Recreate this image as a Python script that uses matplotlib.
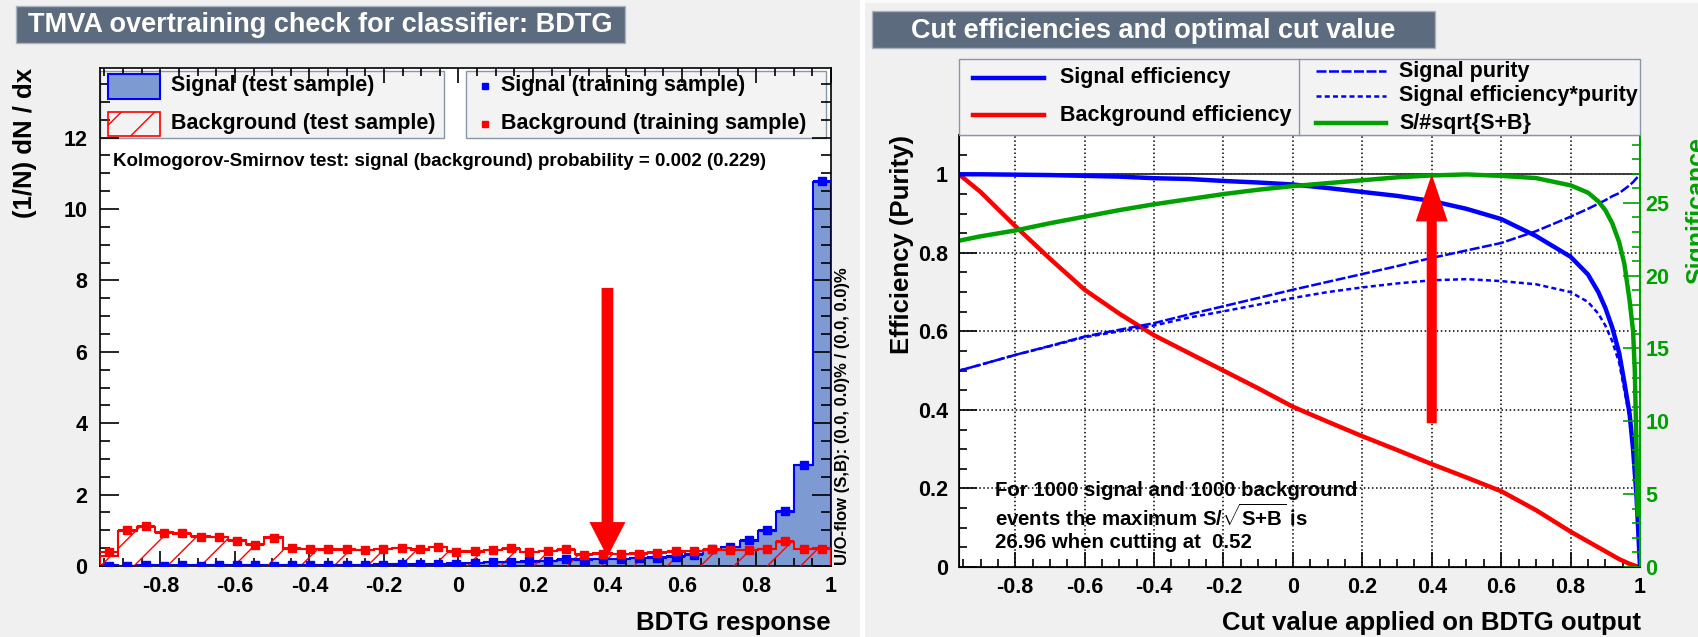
import numpy as np
import matplotlib
matplotlib.use("Agg")
import matplotlib.pyplot as plt
from matplotlib.patches import Rectangle, FancyArrow
from matplotlib.lines import Line2D
from matplotlib.ticker import MultipleLocator, FuncFormatter

# ---------------- data ----------------
# left panel: BDTG response histograms (40 bins)
bdt_lo, bdt_hi = -0.962, 1.0
n_bins = 40

sig_test = [0.02, 0.01, 0.02, 0.02, 0.01, 0.02, 0.02, 0.01, 0.02, 0.02,
            0.02, 0.03, 0.02, 0.03, 0.03, 0.05, 0.06, 0.05, 0.07, 0.08,
            0.09, 0.10, 0.10, 0.12, 0.14, 0.17, 0.19, 0.20, 0.21, 0.22,
            0.24, 0.28, 0.33, 0.45, 0.53, 0.70, 0.98, 1.52, 2.83, 10.75]
sig_train = [0.01, 0.01, 0.02, 0.01, 0.02, 0.01, 0.02, 0.02, 0.02, 0.01,
             0.02, 0.02, 0.02, 0.02, 0.03, 0.04, 0.05, 0.06, 0.07, 0.07,
             0.09, 0.10, 0.11, 0.13, 0.14, 0.19, 0.18, 0.19, 0.21, 0.22,
             0.23, 0.25, 0.31, 0.49, 0.54, 0.73, 1.00, 1.54, 2.82, 10.78]
bkg_test = [0.28, 0.97, 1.08, 0.95, 0.90, 0.84, 0.81, 0.74, 0.62, 0.80,
            0.49, 0.48, 0.46, 0.45, 0.46, 0.48, 0.51, 0.46, 0.52, 0.42,
            0.40, 0.44, 0.48, 0.40, 0.43, 0.45, 0.33, 0.36, 0.34, 0.36,
            0.38, 0.40, 0.42, 0.45, 0.46, 0.44, 0.48, 0.66, 0.47, 0.50]
bkg_train = [0.39, 1.00, 1.12, 0.93, 0.92, 0.82, 0.80, 0.71, 0.60, 0.79,
             0.50, 0.49, 0.47, 0.47, 0.44, 0.47, 0.50, 0.47, 0.54, 0.40,
             0.41, 0.45, 0.50, 0.39, 0.41, 0.47, 0.32, 0.35, 0.33, 0.34,
             0.37, 0.41, 0.41, 0.47, 0.45, 0.45, 0.49, 0.70, 0.47, 0.49]

ks_sig, ks_bkg = 0.002, 0.229

# right panel: cut efficiencies vs. cut value
cut_x = [-0.962, -0.9, -0.8, -0.7, -0.6, -0.5, -0.4, -0.3, -0.2, -0.1,
         0.0, 0.1, 0.2, 0.3, 0.4, 0.5, 0.6, 0.7, 0.8, 0.85,
         0.88, 0.9, 0.92, 0.94, 0.955, 0.97, 0.98, 0.99, 0.995, 1.0]
sig_eff = [1.0, 1.0, 0.999, 0.998, 0.996, 0.994, 0.99, 0.988, 0.983, 0.979,
           0.974, 0.965, 0.955, 0.945, 0.932, 0.912, 0.886, 0.843, 0.79, 0.745,
           0.70, 0.66, 0.61, 0.545, 0.47, 0.39, 0.30, 0.18, 0.09, 0.0]
bkg_eff = [1.0, 0.955, 0.868, 0.785, 0.706, 0.645, 0.59, 0.545, 0.50, 0.455,
           0.408, 0.37, 0.333, 0.298, 0.262, 0.228, 0.193, 0.145, 0.09, 0.065,
           0.05, 0.04, 0.03, 0.02, 0.014, 0.008, 0.005, 0.002, 0.001, 0.0]
purity = [0.50, 0.515, 0.54, 0.563, 0.587, 0.604, 0.621, 0.643, 0.664, 0.685,
          0.706, 0.726, 0.746, 0.766, 0.787, 0.806, 0.825, 0.855, 0.892, 0.912,
          0.925, 0.934, 0.944, 0.952, 0.962, 0.972, 0.98, 0.99, 0.995, 1.0]
eff_pur = [0.50, 0.515, 0.54, 0.562, 0.585, 0.60, 0.615, 0.635, 0.651, 0.668,
           0.685, 0.70, 0.712, 0.722, 0.73, 0.733, 0.728, 0.72, 0.70, 0.675,
           0.645, 0.615, 0.575, 0.52, 0.45, 0.38, 0.295, 0.178, 0.09, 0.0]
sig_x = [-0.962, -0.9, -0.8, -0.7, -0.6, -0.5, -0.4, -0.3, -0.2, -0.1,
         0.0, 0.1, 0.2, 0.3, 0.4, 0.5, 0.6, 0.7, 0.8, 0.85,
         0.88, 0.9, 0.92, 0.94, 0.955, 0.97, 0.98, 0.985, 0.99, 0.993]
significance = [22.4, 22.7, 23.1, 23.6, 24.05, 24.5, 24.9, 25.25, 25.6, 25.9,
                26.15, 26.35, 26.55, 26.75, 26.88, 26.95, 26.85, 26.7, 26.2, 25.7,
                25.1, 24.5, 23.6, 22.3, 20.8, 18.3, 16.2, 13.5, 8.0, 3.6]
max_signif = 26.96
best_cut = 0.52
n_sig_events, n_bkg_events = 1000, 1000
arrow_x = 0.4

# ---------------- style ----------------
W, H = 1698, 637
canvas_col = "#f0f0f0"
title_col = "#5d6b7e"
sig_fill = "#7d9bd2"
green = "#00a000"
legend_bg = "#f3f3f3"

plt.rcParams["font.family"] = ["Liberation Sans", "DejaVu Sans"]
plt.rcParams["font.weight"] = "bold"
plt.rcParams["hatch.linewidth"] = 1.0
plt.rcParams["mathtext.fontset"] = "custom"
plt.rcParams["mathtext.rm"] = "Liberation Sans:bold"
plt.rcParams["mathtext.it"] = "Liberation Sans:bold"
plt.rcParams["mathtext.bf"] = "Liberation Sans:bold"


def fb(x0, y0, x1, y1):
    # pixel box (top-left origin) -> figure fraction rect
    return [x0 / W, 1 - y1 / H, (x1 - x0) / W, (y1 - y0) / H]


def fp(x, y):
    return (x / W, 1 - y / H)


def tick_fmt(v, _):
    return f"{round(v, 6) + 0.0:g}"


fig = plt.figure(figsize=(W / 100, H / 100), dpi=100, facecolor=canvas_col)

# canvas separation / top strip of right canvas
fig.patches.append(Rectangle(fp(860, 637), 5 / W, 1, transform=fig.transFigure,
                             facecolor="white", edgecolor="none", zorder=0))
fig.patches.append(Rectangle(fp(865, 3), 1, 3 / H, transform=fig.transFigure,
                             facecolor="#fafafa", edgecolor="none", zorder=0))

# title boxes
for (x0, y0, x1, y1), txt in [((16, 6, 625, 43), "TMVA overtraining check for classifier: BDTG"),
                              ((872, 11, 1435, 48), "Cut efficiencies and optimal cut value")]:
    r = fb(x0, y0, x1, y1)
    fig.patches.append(Rectangle((r[0], r[1]), r[2], r[3], transform=fig.transFigure,
                                 facecolor=title_col, edgecolor="#a9b3c0", lw=1.0, zorder=1))
    fig.text(*fp((x0 + x1) / 2, (y0 + y1) / 2 + 1), txt, color="white", fontsize=19.5,
             ha="center", va="center")

# ================= left panel =================
ax = fig.add_axes(fb(100, 68, 831, 566))
edges = np.linspace(bdt_lo, bdt_hi, n_bins + 1)
centers = 0.5 * (edges[:-1] + edges[1:])
half_w = 0.5 * (edges[1] - edges[0])

ax.stairs(sig_test, edges, fill=True, facecolor=sig_fill, edgecolor="none", zorder=1)
ax.stairs(sig_test, edges, color="blue", lw=1.5, zorder=2)
ax.stairs(bkg_test, edges, fill=True, facecolor="none", edgecolor="red", hatch="/", lw=0, zorder=3)
ax.stairs(bkg_test, edges, color="red", lw=1.5, zorder=4)
ax.errorbar(centers, sig_train, xerr=half_w, fmt="s", color="blue", ms=5.5,
            elinewidth=1.5, capsize=0, zorder=5)
ax.errorbar(centers, bkg_train, xerr=half_w, fmt="s", color="red", ms=5.5,
            elinewidth=1.5, capsize=0, zorder=5)

ax.add_patch(FancyArrow(arrow_x, 7.79, 0, -(7.79 - 0.25), width=0.0314, head_width=0.0966,
                        head_length=0.98, length_includes_head=True, color="red", lw=0, zorder=6))

ax.set_xlim(bdt_lo, bdt_hi)
ax.set_ylim(0, 13.95)
ax.xaxis.set_major_locator(MultipleLocator(0.2))
ax.xaxis.set_minor_locator(MultipleLocator(0.05))
ax.yaxis.set_major_locator(MultipleLocator(2))
ax.yaxis.set_minor_locator(MultipleLocator(0.5))
ax.xaxis.set_major_formatter(FuncFormatter(tick_fmt))
ax.yaxis.set_major_formatter(FuncFormatter(tick_fmt))
ax.tick_params(which="both", direction="in", top=True, right=True, labelsize=15.5, width=1.2)
ax.tick_params(axis="y", which="major", length=14, pad=9)
ax.tick_params(axis="y", which="minor", length=7)
ax.tick_params(axis="x", which="major", length=11, pad=7)
ax.tick_params(axis="x", which="minor", length=6)
for s in ax.spines.values():
    s.set_linewidth(1.2)

# legends of left panel (drawn inside the frame, under the ticks)
for x0, x1 in [(100, 444), (466, 826)]:
    r = fb(x0, 71, x1, 138)
    ax.add_artist(Rectangle((r[0], r[1]), r[2], r[3], transform=fig.transFigure,
                            facecolor=legend_bg, edgecolor="#8896aa", lw=1.0, zorder=1.5,
                            clip_on=False))
r = fb(108, 74, 160, 99)
ax.add_artist(Rectangle((r[0], r[1]), r[2], r[3], transform=fig.transFigure, facecolor=sig_fill,
                        edgecolor="blue", lw=1.5, zorder=1.6, clip_on=False))
r = fb(108, 112, 160, 136)
ax.add_artist(Rectangle((r[0], r[1]), r[2], r[3], transform=fig.transFigure, facecolor="none",
                        edgecolor="red", hatch="/", lw=1.2, zorder=1.6, clip_on=False))
for yy, col in [(86, "blue"), (124, "red")]:
    ax.add_artist(Line2D([485 / W], [1 - yy / H], transform=fig.transFigure, marker="s",
                         ms=5, color=col, zorder=1.6, clip_on=False))
fig.text(*fp(171, 86), "Signal (test sample)", fontsize=15.5, va="center")
fig.text(*fp(171, 124), "Background (test sample)", fontsize=15.5, va="center")
fig.text(*fp(501, 86), "Signal (training sample)", fontsize=15.5, va="center")
fig.text(*fp(501, 124), "Background (training sample)", fontsize=15.5, va="center")

fig.text(*fp(113, 162),
         f"Kolmogorov-Smirnov test: signal (background) probability = {ks_sig:.3f} ({ks_bkg:.3f})",
         fontsize=13.5, va="center")

fig.text(*fp(25, 68), "(1/N) dN / dx", rotation=90, fontsize=18.5, ha="center", va="top")
fig.text(*fp(831, 623), "BDTG response", fontsize=18.5, ha="right", va="center")
fig.text(*fp(842, 565), "U/O-flow (S,B): (0.0, 0.0)% / (0.0, 0.0)%", rotation=90,
         fontsize=12, ha="center", va="bottom")

# ================= right panel =================
ax2 = fig.add_axes(fb(959, 135, 1640, 567))
ax2.plot(cut_x, bkg_eff, color="red", lw=3.2, zorder=3)
ax2.plot(cut_x, sig_eff, color="blue", lw=3.2, zorder=3)
ax2.plot(cut_x, purity, color="blue", lw=1.8, dashes=(4, 1), zorder=3)
ax2.plot(cut_x, eff_pur, color="blue", lw=1.8, dashes=(2, 1.3), zorder=3)
ax2.axhline(1.0, color="#333333", lw=1.3, zorder=2)

ax2.set_xlim(bdt_lo, bdt_hi)
ax2.set_ylim(0, 1.1)
ax2.xaxis.set_major_locator(MultipleLocator(0.2))
ax2.xaxis.set_minor_locator(MultipleLocator(0.05))
ax2.yaxis.set_major_locator(MultipleLocator(0.2))
ax2.yaxis.set_minor_locator(MultipleLocator(0.05))
ax2.xaxis.set_major_formatter(FuncFormatter(tick_fmt))
ax2.yaxis.set_major_formatter(FuncFormatter(tick_fmt))
ax2.grid(True, which="major", ls=":", color="black", lw=1.1)
ax2.tick_params(which="both", direction="in", top=False, right=False, labelsize=15.5, width=1.2)
ax2.tick_params(axis="y", which="major", length=13, pad=8)
ax2.tick_params(axis="y", which="minor", length=6)
ax2.tick_params(axis="x", which="major", length=11, pad=7)
ax2.tick_params(axis="x", which="minor", length=6)
for s in ax2.spines.values():
    s.set_linewidth(1.2)

tw = ax2.twinx()
tw.plot(sig_x, significance, color=green, lw=3.2)
tw.set_ylim(0, 1.1 * max_signif)
tw.yaxis.set_major_locator(MultipleLocator(5))
tw.yaxis.set_minor_locator(MultipleLocator(1))
tw.tick_params(axis="y", which="both", direction="in", colors=green, labelsize=15.5,
               width=1.2, pad=4)
tw.tick_params(axis="y", which="major", length=12)
tw.tick_params(axis="y", which="minor", length=6)
tw.spines["right"].set_color(green)
tw.spines["right"].set_linewidth(1.5)
tw.add_patch(FancyArrow(arrow_x, 0.366, 0, 1.0 - 0.366, width=0.029, head_width=0.092,
                        head_length=0.12, length_includes_head=True, color="red", lw=0,
                        zorder=6, transform=ax2.transData))

# legend above right frame
r = fb(959, 59, 1640, 135)
fig.patches.append(Rectangle((r[0], r[1]), r[2], r[3], transform=fig.transFigure,
                             facecolor=legend_bg, edgecolor="#8896aa", lw=1.0, zorder=1))
fig.lines.append(Line2D([1299 / W] * 2, [1 - 59 / H, 1 - 135 / H], transform=fig.transFigure,
                        color="#8896aa", lw=1.0, zorder=1.1))
leg_items = [
    (973, 1044, 78, dict(color="blue", lw=3.2), "Signal efficiency", 1060),
    (973, 1044, 115, dict(color="red", lw=3.2), "Background efficiency", 1060),
    (1316, 1386, 71, dict(color="blue", lw=1.8, dashes=(4, 1)), "Signal purity", 1399),
    (1316, 1386, 96, dict(color="blue", lw=1.8, dashes=(2, 1.3)), "Signal efficiency*purity", 1399),
    (1316, 1386, 123, dict(color=green, lw=3.2), "S/#sqrt{S+B}", 1399),
]
for x0, x1, yy, kw, label, tx in leg_items:
    fig.lines.append(Line2D([x0 / W, x1 / W], [1 - yy / H] * 2, transform=fig.transFigure,
                            zorder=1.2, **kw))
    fig.text(*fp(tx, yy), label, fontsize=15.5, va="center")

fig.text(*fp(995, 491), f"For {n_sig_events} signal and {n_bkg_events} background",
         fontsize=14.7, va="center")
fig.text(*fp(995, 517), r"events the maximum S/$\sqrt{\mathrm{S{+}B}}$ is", fontsize=14.7,
         va="center")
fig.text(*fp(995, 543), f"{max_signif:.2f} when cutting at  {best_cut:.2f}", fontsize=14.7,
         va="center")

fig.text(*fp(902, 135), "Efficiency (Purity)", rotation=90, fontsize=18.5, ha="center", va="top")
fig.text(*fp(1641, 623), "Cut value applied on BDTG output", fontsize=18.5, ha="right",
         va="center")
fig.text(*fp(1685, 137), "Significance", rotation=90, fontsize=18, color=green, ha="left",
         va="top")

fig.savefig("out.png", dpi=100, facecolor=canvas_col)
